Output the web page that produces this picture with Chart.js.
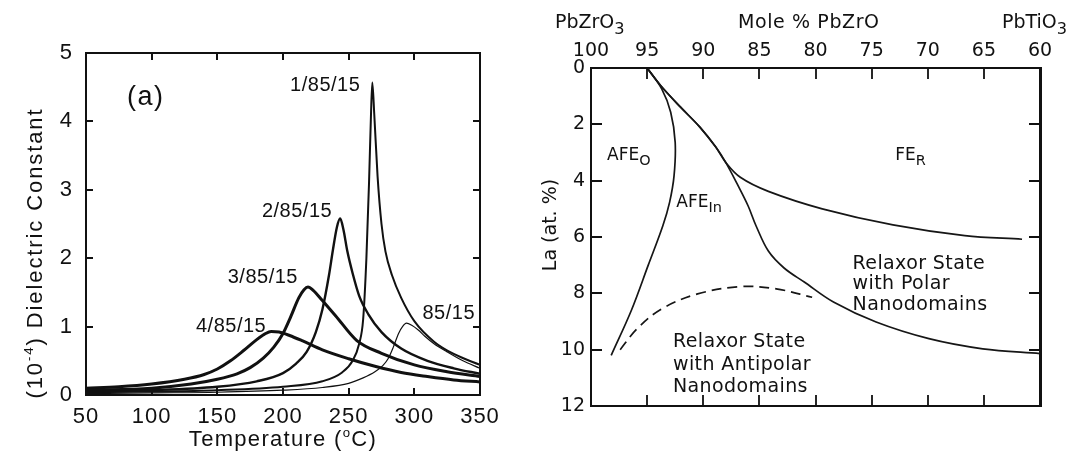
<!DOCTYPE html>
<html>
<head>
<meta charset="utf-8">
<script src="https://cdn.jsdelivr.net/npm/chart.js@4.4.1/dist/chart.umd.min.js"></script>
<style>
  html, body { margin: 0; padding: 0; background: #fff; }
  #wrap { position: relative; width: 1078px; height: 461px; }
  canvas { position: absolute; top: 0; }
  #dielectric { left: 0; }
  #phase { left: 520px; }
</style>
</head>
<body>
<div id="wrap">
  <canvas id="dielectric" width="520" height="461"></canvas>
  <canvas id="phase" width="558" height="461"></canvas>
</div>
<script>
// --- (a) dielectric constant (x10^4) vs temperature for La/85/15 ---
const tPure = [50, 100, 150, 200, 230, 250, 261, 270, 276, 280, 284, 288, 291, 294, 298, 303, 308, 315, 325, 337, 350];
const kPure = [0.02, 0.03, 0.04, 0.07, 0.11, 0.17, 0.25, 0.34, 0.43, 0.53, 0.70, 0.90, 1.00, 1.05, 1.02, 0.95, 0.86, 0.75, 0.63, 0.50, 0.39];
const tLa1 = [50, 100, 150, 200, 230, 245, 253, 258, 261, 263.5, 265.5, 267, 268, 269.5, 272, 275, 278, 283, 290, 300, 315, 330, 350];
const kLa1 = [0.04, 0.05, 0.07, 0.12, 0.20, 0.33, 0.50, 0.75, 1.10, 2.00, 3.10, 4.10, 4.57, 4.10, 3.20, 2.50, 2.10, 1.75, 1.42, 1.08, 0.78, 0.60, 0.44];
const tLa2 = [50, 100, 150, 180, 200, 210, 218, 225, 230, 235, 238, 241, 243.5, 246, 249, 253, 258, 265, 275, 290, 310, 330, 350];
const kLa2 = [0.05, 0.07, 0.12, 0.20, 0.32, 0.46, 0.63, 0.92, 1.25, 1.75, 2.12, 2.45, 2.58, 2.42, 2.10, 1.78, 1.45, 1.18, 0.92, 0.68, 0.50, 0.39, 0.31];
const tLa3 = [50, 100, 130, 150, 165, 175, 185, 193, 200, 206, 212, 216, 219, 223, 230, 240, 256, 275, 300, 325, 350];
const kLa3 = [0.07, 0.10, 0.16, 0.23, 0.31, 0.40, 0.54, 0.70, 0.90, 1.15, 1.42, 1.54, 1.58, 1.53, 1.38, 1.16, 0.80, 0.61, 0.44, 0.34, 0.27];
const tLa4 = [50, 75, 100, 125, 140, 150, 160, 170, 180, 186, 191, 197, 205, 215, 230, 250, 270, 290, 310, 330, 350];
const kLa4 = [0.10, 0.12, 0.16, 0.23, 0.30, 0.38, 0.50, 0.65, 0.81, 0.89, 0.93, 0.92, 0.87, 0.79, 0.66, 0.53, 0.42, 0.33, 0.27, 0.22, 0.19];
const sampleNames = ["85/15", "1/85/15", "2/85/15", "3/85/15", "4/85/15"];

// --- (b) PLZT phase diagram: mole % PbZrO3 vs La (at. %) ---
const afeOMole = [95.0, 93.7, 92.9, 92.5, 92.6, 93.0, 93.6, 94.9, 96.4, 98.2];
const afeOLa = [0.0, 0.74, 1.57, 2.64, 3.82, 4.77, 5.6, 7.0, 8.6, 10.2];
const feRMole = [95.0, 93.8, 92.0, 90.3, 88.9, 88.0, 86.7, 84.2, 79.4, 73.1, 66.7, 61.6];
const feRLa = [0.0, 0.62, 1.40, 2.10, 2.80, 3.35, 3.88, 4.38, 5.0, 5.57, 5.95, 6.08];
const relaxMole = [95.0, 93.8, 92.0, 90.3, 88.9, 88.0, 87.0, 86.0, 85.3, 84.2, 82.8, 81.0, 78.4, 74.6, 69.9, 65.1, 60.0];
const relaxLa = [0.0, 0.62, 1.40, 2.10, 2.80, 3.35, 4.1, 4.9, 5.6, 6.5, 7.1, 7.6, 8.31, 9.02, 9.61, 9.97, 10.14];
const dashMole = [97.4, 95.9, 93.7, 90.5, 86.7, 83.5, 80.3];
const dashLa = [10.0, 9.26, 8.55, 8.02, 7.76, 7.84, 8.14];

const INK = "#111";
const pair = (xs, ys) => xs.map((x, i) => ({ x, y: ys[i] }));

// text with sub/superscript pieces; (x, y) is the centre of the capitals
function drawRich(ctx, x, y, parts, size, family, o = {}) {
  ctx.save();
  ctx.translate(x, y);
  if (o.rotate) ctx.rotate(o.rotate);
  ctx.letterSpacing = (o.spacing || 0) + "px";
  ctx.fillStyle = o.color || INK;
  ctx.textAlign = "left";
  ctx.textBaseline = "alphabetic";
  const small = size * (o.subScale || 0.7);
  const fontOf = (k) => (k ? small : size) + "px " + family;
  const widths = parts.map(([t, k]) => {
    ctx.font = fontOf(k);
    return ctx.measureText(t).width;
  });
  const total = widths.reduce((a, b) => a + b, 0);
  let cx = o.align === "center" ? -total / 2 : o.align === "right" ? -total : 0;
  const base = size * 0.36;
  parts.forEach(([t, k], i) => {
    ctx.font = fontOf(k);
    const dy = k === "sub" ? size * 0.3 : k === "sup" ? -size * 0.42 : 0;
    ctx.fillText(t, cx, base + dy);
    cx += widths[i];
  });
  ctx.restore();
}

// ticks pointing into the plot on all four sides
function innerTicks(chart, len, width) {
  const { ctx, chartArea: a, scales } = chart;
  const inner = (s) => s.ticks.map((t) => t.value).filter((v) => v !== s.min && v !== s.max);
  ctx.save();
  ctx.strokeStyle = INK;
  ctx.lineWidth = width;
  ctx.beginPath();
  inner(scales.x).forEach((v) => {
    const p = Math.round(scales.x.getPixelForValue(v));
    ctx.moveTo(p, a.bottom); ctx.lineTo(p, a.bottom - len);
    ctx.moveTo(p, a.top); ctx.lineTo(p, a.top + len);
  });
  inner(scales.y).forEach((v) => {
    const p = Math.round(scales.y.getPixelForValue(v));
    ctx.moveTo(a.left, p); ctx.lineTo(a.left + len, p);
    ctx.moveTo(a.right, p); ctx.lineTo(a.right - len, p);
  });
  ctx.stroke();
  ctx.restore();
}

const frame = (w) => ({ display: true, color: INK, width: w });
const sideAxis = (pos, extra, size) =>
  Object.assign({
    position: pos,
    ticks: { display: false },
    grid: { display: false, drawTicks: false },
    border: frame(2),
    afterFit: (s) => { if (pos === "top" || pos === "bottom") s.height = size; else s.width = size; },
  }, extra);

// ---------------- left panel ----------------
const ARIAL = "'Liberation Sans', Arial, sans-serif";
const curves = [
  { x: tPure, y: kPure, w: 1.2 },
  { x: tLa1, y: kLa1, w: 2.0 },
  { x: tLa2, y: kLa2, w: 2.4 },
  { x: tLa3, y: kLa3, w: 3.0 },
  { x: tLa4, y: kLa4, w: 3.0 },
];

const dielectricDecor = {
  id: "dielectricDecor",
  beforeDraw(chart) { chart.ctx.letterSpacing = "1px"; },
  afterDraw(chart) {
    const { ctx, chartArea: a, scales } = chart;
    innerTicks(chart, 7, 2);
    // sample names next to each peak
    const place = [[16, -11, "left"], [-12, 1, "right"], [-8, -9, "right"], [-10, -11, "right"], [-5, -7, "right"]];
    curves.forEach((c, i) => {
      const k = Math.max(...c.y);
      const t = c.x[c.y.indexOf(k)];
      const [dx, dy, align] = place[i];
      drawRich(ctx, scales.x.getPixelForValue(t) + dx, scales.y.getPixelForValue(k) + dy,
        [[sampleNames[i]]], 20, ARIAL, { align, spacing: 0.5 });
    });
    drawRich(ctx, a.left + 41, a.top + 42, [["(a)"]], 27, ARIAL, { spacing: 1.5 });
    drawRich(ctx, (a.left + a.right) / 2, 438, [["Temperature ("], ["o", "sup"], ["C)"]], 22, ARIAL,
      { align: "center", spacing: 1.3, subScale: 0.6 });
    drawRich(ctx, 34, 253, [["(10"], ["-4", "sup"], [") Dielectric Constant"]], 22, ARIAL,
      { align: "center", spacing: 1.9, rotate: -Math.PI / 2, subScale: 0.6 });
  },
};

new Chart(document.getElementById("dielectric"), {
  type: "scatter",
  data: {
    datasets: curves.map((c, i) => ({
      label: sampleNames[i],
      data: pair(c.x, c.y),
      showLine: true,
      borderColor: INK,
      borderWidth: c.w,
      pointRadius: 0,
      cubicInterpolationMode: "monotone",
    })),
  },
  options: {
    responsive: false,
    animation: false,
    layout: { padding: 0 },
    plugins: { legend: { display: false }, tooltip: { enabled: false } },
    scales: {
      x: {
        type: "linear", position: "bottom", min: 50, max: 350,
        ticks: { stepSize: 50, padding: 9, maxRotation: 0, color: INK, font: { family: ARIAL, size: 22 } },
        grid: { display: false, drawTicks: false },
        border: frame(2),
        afterFit: (s) => { s.height = 66; },
      },
      xTop: sideAxis("top", { type: "linear", min: 50, max: 350 }, 53),
      y: {
        type: "linear", position: "left", min: 0, max: 5,
        ticks: { stepSize: 1, padding: 13, color: INK, font: { family: ARIAL, size: 22 } },
        grid: { display: false, drawTicks: false },
        border: frame(2),
        afterFit: (s) => { s.width = 86; },
      },
      yRight: sideAxis("right", { type: "linear", min: 0, max: 5 }, 40),
    },
  },
  plugins: [dielectricDecor],
});

// ---------------- right panel ----------------
const DEJA = "'DejaVu Sans', sans-serif";
const phaseDecor = {
  id: "phaseDecor",
  afterDraw(chart) {
    const { ctx, scales } = chart;
    const at = (m, la) => [scales.x.getPixelForValue(m), scales.y.getPixelForValue(la)];
    innerTicks(chart, 11, 1.8);
    drawRich(ctx, 35, 21, [["PbZrO"], ["3", "sub"]], 19, DEJA, { subScale: 0.85 });
    drawRich(ctx, 218, 21, [["Mole % PbZrO"]], 19, DEJA, { spacing: 0.6 });
    drawRich(ctx, 482, 21, [["PbTiO"], ["3", "sub"]], 19, DEJA, { subScale: 0.85 });
    drawRich(ctx, 29, 225, [["La (at. %)"]], 19, DEJA, { align: "center", rotate: -Math.PI / 2 });

    drawRich(ctx, ...at(98.57, 3.05), [["AFE"], ["O", "sub"]], 17, DEJA, { subScale: 0.85 });
    drawRich(ctx, ...at(72.9, 3.05), [["FE"], ["R", "sub"]], 17, DEJA, { subScale: 0.85 });
    drawRich(ctx, ...at(92.4, 4.7), [["AFE"], ["In", "sub"]], 17, DEJA, { subScale: 0.85 });
    const block = (m, la, lines, gap) => {
      const [x, y] = at(m, la);
      lines.forEach((s, i) => drawRich(ctx, x, y + i * gap, [[s]], 19, DEJA, { spacing: 0.4 }));
    };
    block(76.7, 6.89, ["Relaxor State", "with Polar", "Nanodomains"], 20.5);
    block(92.7, 9.67, ["Relaxor State", "with Antipolar", "Nanodomains"], 22.5);
  },
};

const phaseLine = (xs, ys, dash) => ({
  data: pair(xs, ys),
  showLine: true,
  borderColor: "#161616",
  borderWidth: 1.7,
  borderDash: dash || [],
  pointRadius: 0,
  tension: 0.35,
});

new Chart(document.getElementById("phase"), {
  type: "scatter",
  data: {
    datasets: [
      phaseLine(afeOMole, afeOLa),
      phaseLine(feRMole, feRLa),
      phaseLine(relaxMole, relaxLa),
      phaseLine(dashMole, dashLa, [10, 6]),
    ],
  },
  options: {
    responsive: false,
    animation: false,
    layout: { padding: 0 },
    plugins: { legend: { display: false }, tooltip: { enabled: false } },
    scales: {
      x: {
        type: "linear", position: "top", min: 60, max: 100, reverse: true,
        ticks: { stepSize: 5, padding: 6, maxRotation: 0, autoSkip: false, color: INK, font: { family: DEJA, size: 19 } },
        grid: { display: false, drawTicks: false },
        border: frame(2),
        afterFit: (s) => { s.height = 68; },
      },
      xBottom: sideAxis("bottom", { type: "linear", min: 60, max: 100, reverse: true }, 55),
      y: {
        type: "linear", position: "left", min: 0, max: 12, reverse: true,
        ticks: { stepSize: 2, padding: 6, color: INK, font: { family: DEJA, size: 19 } },
        grid: { display: false, drawTicks: false },
        border: frame(2),
        afterFit: (s) => { s.width = 71; },
      },
      yRight: sideAxis("right", { type: "linear", min: 0, max: 12, reverse: true, border: frame(3) }, 38),
    },
  },
  plugins: [phaseDecor],
});
</script>
</body>
</html>
